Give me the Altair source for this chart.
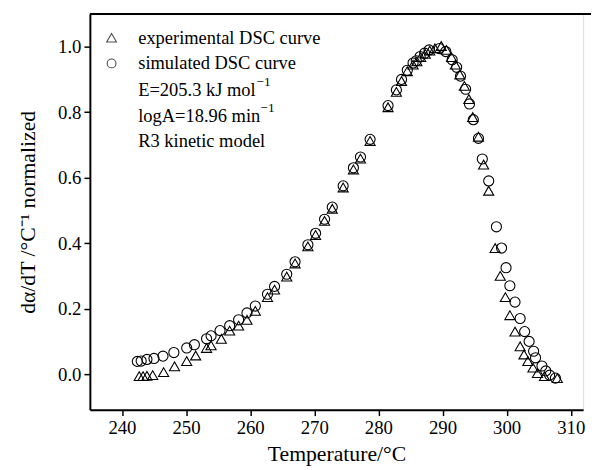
import altair as alt
import pandas as pd

# ---- data ----
exp_T = [242.7, 243.3, 243.9, 244.8, 246.5, 248.2, 250.1, 251.5, 253.2, 253.9,
         255.5, 256.8, 258.2, 259.5, 260.8, 262.7, 263.8, 265.7, 267.0, 269.0,
         270.2, 271.6, 272.8, 274.5, 276.1, 277.2, 278.7, 281.5, 282.8, 283.6,
         284.5, 285.4, 286.0, 286.6, 287.3, 288.0, 288.8, 289.8, 290.6, 291.4,
         292.0, 292.7, 293.4, 294.1, 294.7, 295.6, 296.4, 297.2, 298.2, 299.0,
         299.8, 300.5, 301.3, 302.1, 302.7, 303.3, 304.1, 304.8, 305.9, 307.9]
exp_Y = [-0.006, -0.006, -0.005, -0.003, 0.006, 0.024, 0.040, 0.057, 0.080, 0.088,
         0.108, 0.133, 0.148, 0.166, 0.193, 0.235, 0.258, 0.298, 0.338, 0.390,
         0.425, 0.468, 0.505, 0.570, 0.625, 0.658, 0.712, 0.815, 0.862, 0.895,
         0.925, 0.945, 0.955, 0.968, 0.978, 0.988, 0.995, 1.002, 0.990, 0.968,
         0.945, 0.915, 0.880, 0.840, 0.785, 0.725, 0.640, 0.560, 0.385, 0.300,
         0.235, 0.180, 0.130, 0.085, 0.060, 0.040, 0.020, 0.003, -0.006, -0.012]

sim_T = [242.4, 243.0, 243.9, 245.0, 246.4, 248.1, 250.1, 251.3, 253.2, 253.9,
         255.3, 256.8, 258.2, 259.5, 260.8, 262.7, 263.8, 265.7, 267.0, 269.0,
         270.2, 271.6, 272.8, 274.5, 276.1, 277.2, 278.7, 281.5, 282.8, 283.6,
         284.5, 285.4, 285.9, 286.5, 287.2, 287.9, 289.5, 290.5, 291.5, 292.2,
         292.8, 293.6, 294.2, 294.8, 295.6, 296.2, 297.2, 298.4, 299.2, 299.9,
         300.5, 301.3, 302.1, 302.8, 303.5, 304.2, 304.5, 305.5, 306.1, 306.7, 307.6]
sim_Y = [0.039, 0.040, 0.045, 0.048, 0.055, 0.066, 0.080, 0.090, 0.108, 0.117,
         0.133, 0.148, 0.166, 0.187, 0.208, 0.244, 0.268, 0.305, 0.343, 0.395,
         0.430, 0.473, 0.510, 0.575, 0.630, 0.663, 0.717, 0.820, 0.868, 0.900,
         0.928, 0.950, 0.957, 0.970, 0.980, 0.990, 0.994, 0.985, 0.960, 0.937,
         0.910, 0.870, 0.825, 0.777, 0.720, 0.657, 0.590, 0.450, 0.385, 0.325,
         0.270, 0.220, 0.170, 0.130, 0.100, 0.070, 0.050, 0.025, 0.010, -0.003, -0.012]

x_ticks = [240, 250, 260, 270, 280, 290, 300, 310]
y_ticks = [0.0, 0.2, 0.4, 0.6, 0.8, 1.0]

FONT = "Liberation Serif"
W, H = 500, 401

df = pd.concat([
    pd.DataFrame({"T": exp_T, "y": exp_Y, "s": "experimental"}),
    pd.DataFrame({"T": sim_T, "y": sim_Y, "s": "simulated"}),
])
one = pd.DataFrame({"k": [0]})

xs = alt.Scale(domain=[235, 311.92], nice=False, zero=False)
ys = alt.Scale(domain=[-0.1084, 1.0994], nice=False, zero=False)

points = alt.Chart(df).mark_point(filled=False, color="black", strokeWidth=1.1, size=105, opacity=1).encode(
    x=alt.X("T:Q", scale=xs, axis=alt.Axis(
        values=x_ticks, format="d", title="Temperature/°C", grid=False,
        domainColor="black", domainWidth=2, tickColor="black", tickWidth=1.5, tickSize=6,
        labelFont=FONT, labelFontSize=19, labelColor="black", labelPadding=3,
        titleFont=FONT, titleFontSize=22, titleFontWeight="normal", titleColor="black", titlePadding=7)),
    y=alt.Y("y:Q", scale=ys, axis=alt.Axis(
        values=y_ticks, format=".1f", title="dα/dT /°C⁻¹ normalized", grid=False,
        domainColor="black", domainWidth=2, tickColor="black", tickWidth=1.5, tickSize=6,
        labelFont=FONT, labelFontSize=19, labelColor="black", labelPadding=3,
        titleFont=FONT, titleFontSize=22, titleFontWeight="normal", titleColor="black", titlePadding=18)),
    shape=alt.Shape("s:N", scale=alt.Scale(domain=["experimental", "simulated"],
                                           range=["triangle-up", "circle"]), legend=None),
)

top_line = alt.Chart(one).mark_rule(color="black", strokeWidth=2).encode(
    x=alt.value(0), x2=alt.value(W + 8), y=alt.value(0))

leg_tri = alt.Chart(one).mark_point(shape="triangle-up", filled=False, color="black", size=100, strokeWidth=1.1).encode(
    x=alt.value(22), y=alt.value(24))
leg_cir = alt.Chart(one).mark_point(shape="circle", filled=False, color="black", size=80, strokeWidth=1.1).encode(
    x=alt.value(22), y=alt.value(50))

def txt(s, x, y, size=18.7):
    return alt.Chart(one).mark_text(text=s, font=FONT, fontSize=size, color="black",
                                   align="left", baseline="middle").encode(
        x=alt.value(x), y=alt.value(y))

labels = [
    txt("experimental DSC curve", 49, 24),
    txt("simulated DSC curve", 49, 50),
    txt("E=205.3 kJ mol", 49, 77),
    txt("−1", 169, 69, 13.5),
    txt("logA=18.96 min", 49, 103),
    txt("−1", 173, 95, 13.5),
    txt("R3 kinetic model", 49, 129),
]

chart = alt.layer(points, top_line, leg_tri, leg_cir, *labels).properties(
    width=W, height=H,
    autosize=alt.AutoSizeParams(type="none"),
    padding={"left": 83, "top": 3, "right": 8, "bottom": 59},
).configure_view(stroke=None).configure(background="white")

chart.save("out.html", embed_options={"renderer": "svg", "actions": False})
